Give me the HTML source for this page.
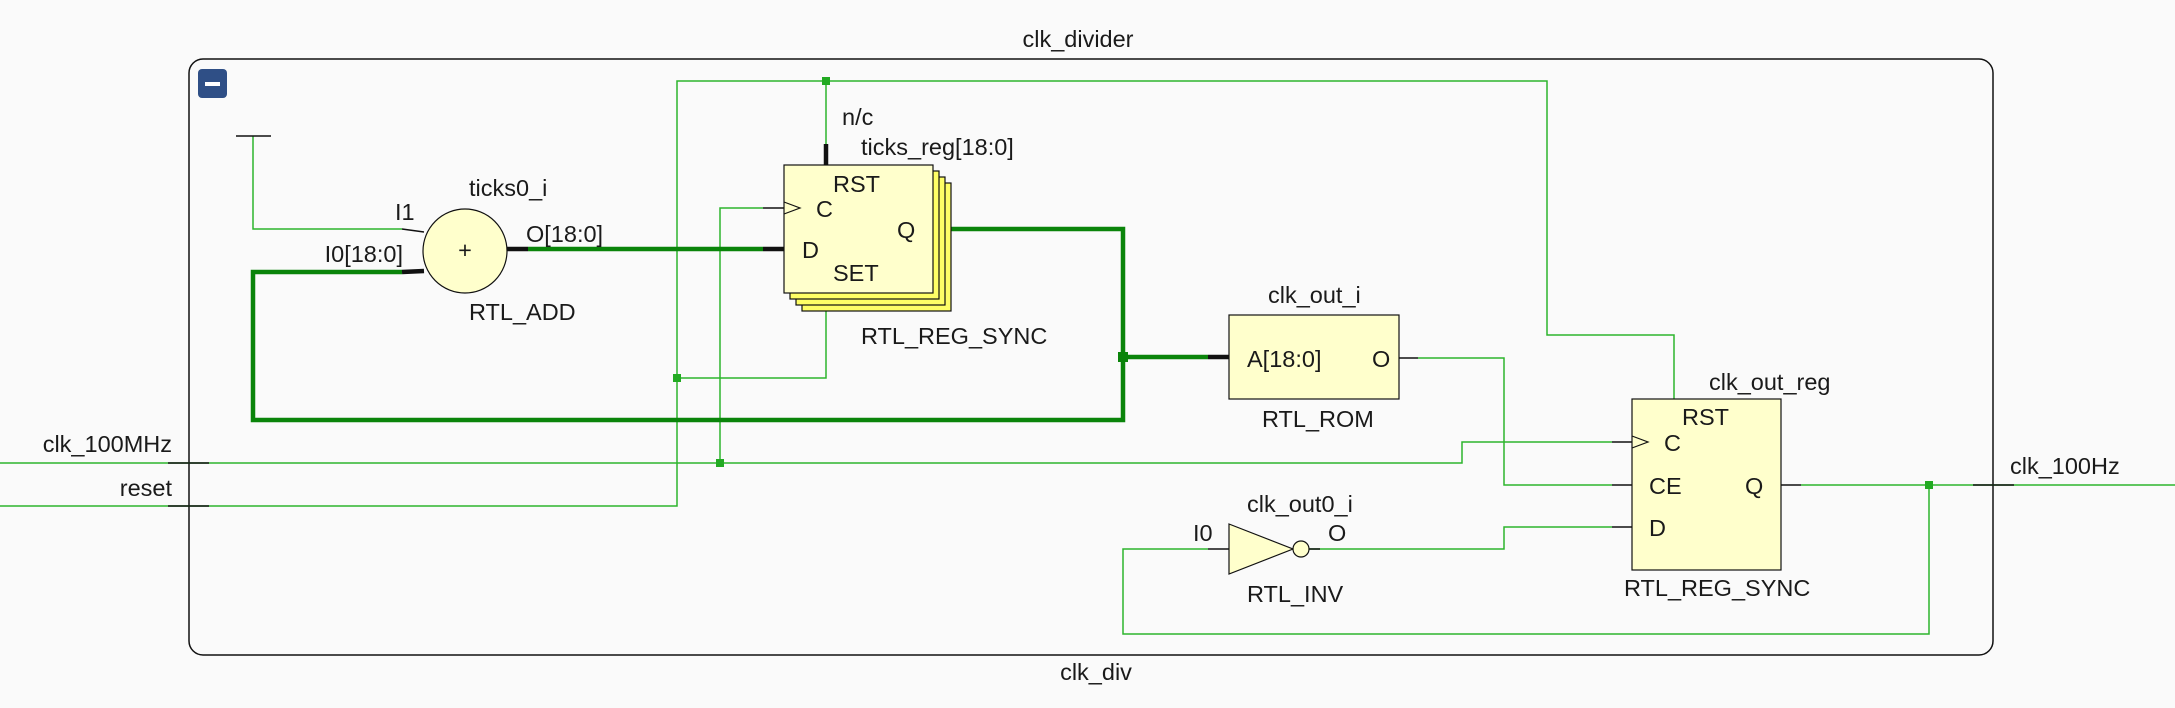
<!DOCTYPE html>
<html><head><meta charset="utf-8"><style>
html,body{margin:0;padding:0;background:#fafafa;}
svg{display:block;}
text{font-family:"Liberation Sans",sans-serif;font-size:23.5px;fill:#1a1a1a;}
</style></head><body>
<svg width="2175" height="708" viewBox="0 0 2175 708" xmlns="http://www.w3.org/2000/svg">
<rect width="2175" height="708" fill="#fafafa"/>
<rect x="189" y="59" width="1804" height="596" rx="14" ry="14" fill="none" stroke="#111" stroke-width="1.5"/>
<rect x="198" y="69" width="29" height="29" rx="4" fill="#2f4f86"/>
<rect x="205" y="82" width="15" height="4" fill="#fff"/>
<text x="1078" y="47" text-anchor="middle">clk_divider</text>
<text x="1096" y="680" text-anchor="middle">clk_div</text>

<g fill="none" stroke="#2cb52c" stroke-width="1.5">
<polyline points="0,506 677,506 677,81 1547,81 1547,335 1674,335 1674,399"/>
<line x1="826" y1="81" x2="826" y2="144"/>
<polyline points="677,378 826,378 826,311"/>
<polyline points="0,463 1462,463 1462,442 1612,442"/>
<polyline points="720,463 720,208 763,208"/>
<polyline points="253,136 253,229 402,229"/>
<polyline points="1418,358 1504,358 1504,485 1612,485"/>
<polyline points="1309,549 1504,549 1504,527 1612,527"/>
<polyline points="1801,485 2175,485"/>
<polyline points="1929,485 1929,634 1123,634 1123,549 1208,549"/>
</g>
<line x1="236" y1="136" x2="271" y2="136" stroke="#111" stroke-width="1.5"/>

<g fill="none" stroke="#0a840a" stroke-width="4.5">
<polyline points="402,272 253,272 253,420 1123,420 1123,229 951,229"/>
<line x1="528" y1="249" x2="763" y2="249"/>
<line x1="1123" y1="357" x2="1208" y2="357"/>
</g>
<g stroke="#111" stroke-width="1.5">
<line x1="168" y1="463" x2="209" y2="463"/>
<line x1="168" y1="506" x2="209" y2="506"/>
<line x1="1973" y1="485" x2="2014" y2="485"/>
<line x1="763" y1="208" x2="784" y2="208"/>
<line x1="402" y1="229" x2="424" y2="232"/>
<line x1="1399" y1="358" x2="1418" y2="358"/>
<line x1="1612" y1="442" x2="1632" y2="442"/>
<line x1="1612" y1="485" x2="1632" y2="485"/>
<line x1="1612" y1="527" x2="1632" y2="527"/>
<line x1="1781" y1="485" x2="1801" y2="485"/>
<line x1="1208" y1="549" x2="1229" y2="549"/>
<line x1="1309" y1="549" x2="1320" y2="549"/>
</g>
<g stroke="#111" stroke-width="4.5">
<line x1="402" y1="272" x2="424" y2="271"/>
<line x1="507" y1="249" x2="528" y2="249"/>
<line x1="763" y1="249" x2="784" y2="249"/>
<line x1="933" y1="229" x2="951" y2="229"/>
<line x1="826" y1="144" x2="826" y2="165"/>
<line x1="826" y1="293" x2="826" y2="311"/>
<line x1="1208" y1="357" x2="1229" y2="357"/>
</g>
<g fill="#22aa22">
<rect x="822" y="77" width="8" height="8"/>
<rect x="673" y="374" width="8" height="8"/>
<rect x="716" y="459" width="8" height="8"/>
<rect x="1925" y="481" width="8" height="8"/>
</g>
<rect x="1118" y="352" width="10" height="10" fill="#0a840a"/>

<circle cx="465" cy="251" r="42" fill="#ffffcc" stroke="#111" stroke-width="1.2"/>
<text x="465" y="258" text-anchor="middle" font-size="16">+</text>
<text x="469" y="196">ticks0_i</text>
<text x="395" y="220">I1</text>
<text x="403" y="262" text-anchor="end">I0[18:0]</text>
<text x="526" y="242">O[18:0]</text>
<text x="469" y="320">RTL_ADD</text>

<rect x="802" y="183" width="149" height="128" fill="#ffff66" stroke="#111" stroke-width="1.2"/>
<rect x="796" y="177" width="149" height="128" fill="#ffff66" stroke="#111" stroke-width="1.2"/>
<rect x="790" y="171" width="149" height="128" fill="#ffff66" stroke="#111" stroke-width="1.2"/>
<rect x="784" y="165" width="149" height="128" fill="#ffffcc" stroke="#111" stroke-width="1.2"/>
<polyline points="784,202 800,208 784,214" fill="none" stroke="#111" stroke-width="1.2"/>
<text x="842" y="125" font-size="18">n/c</text>
<text x="861" y="155">ticks_reg[18:0]</text>
<text x="833" y="192">RST</text>
<text x="816" y="217">C</text>
<text x="802" y="258">D</text>
<text x="897" y="238">Q</text>
<text x="833" y="281">SET</text>
<text x="861" y="344">RTL_REG_SYNC</text>

<rect x="1229" y="315" width="170" height="84" fill="#ffffcc" stroke="#111" stroke-width="1.2"/>
<text x="1268" y="303">clk_out_i</text>
<text x="1247" y="367">A[18:0]</text>
<text x="1372" y="367">O</text>
<text x="1262" y="427">RTL_ROM</text>

<rect x="1632" y="399" width="149" height="171" fill="#ffffcc" stroke="#111" stroke-width="1.2"/>
<polyline points="1632,436 1648,442 1632,448" fill="none" stroke="#111" stroke-width="1.2"/>
<text x="1709" y="390">clk_out_reg</text>
<text x="1682" y="425">RST</text>
<text x="1664" y="451">C</text>
<text x="1649" y="494">CE</text>
<text x="1745" y="494">Q</text>
<text x="1649" y="536">D</text>
<text x="1624" y="596">RTL_REG_SYNC</text>

<polygon points="1229,524 1293,549 1229,574" fill="#ffffcc" stroke="#111" stroke-width="1.2"/>
<circle cx="1301" cy="549" r="8" fill="#ffffcc" stroke="#111" stroke-width="1.2"/>
<text x="1247" y="512">clk_out0_i</text>
<text x="1193" y="541">I0</text>
<text x="1328" y="541">O</text>
<text x="1247" y="602">RTL_INV</text>

<text x="172" y="452" text-anchor="end">clk_100MHz</text>
<text x="172" y="496" text-anchor="end">reset</text>
<text x="2010" y="474">clk_100Hz</text>
</svg>
</body></html>
